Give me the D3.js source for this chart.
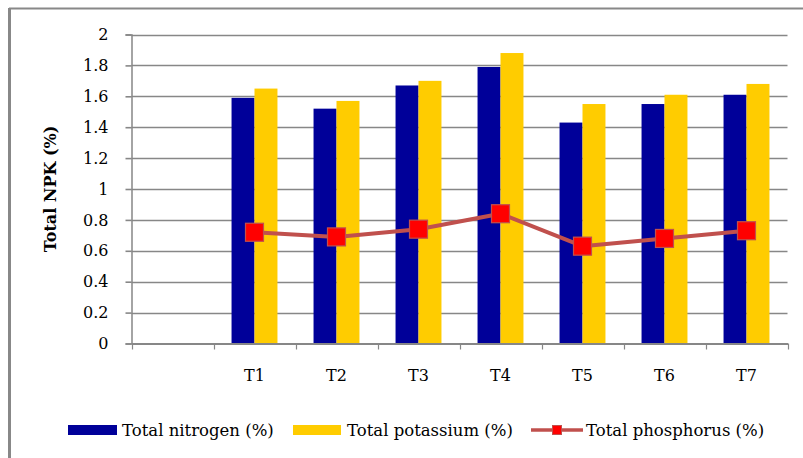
<!DOCTYPE html>
<html>
<head>
<meta charset="utf-8">
<script src="https://cdn.jsdelivr.net/npm/d3@7"></script>
<style>
  html, body { margin: 0; padding: 0; background: #fff; }
  svg { display: block; }
  svg text { font-family: "DejaVu Serif", "Liberation Serif", serif !important; fill: #000; }
</style>
</head>
<body>
<svg id="chart" width="803" height="458"></svg>
<script>
// Categories along the x axis (the first slot is left empty)
const categories = ["", "T1", "T2", "T3", "T4", "T5", "T6", "T7"];
// Treatment values
const nitrogen   = [null, 1.59, 1.52, 1.67, 1.79, 1.43, 1.55, 1.61];
const potassium  = [null, 1.65, 1.57, 1.70, 1.88, 1.55, 1.61, 1.68];
const phosphorus = [null, 0.72, 0.69, 0.74, 0.84, 0.63, 0.68, 0.73];
// Y axis ticks
const yTicks = [0, 0.2, 0.4, 0.6, 0.8, 1, 1.2, 1.4, 1.6, 1.8, 2];

const seriesNames = ["Total nitrogen (%)", "Total potassium (%)", "Total phosphorus (%)"];
const colors = { nitrogen: "#000099", potassium: "#FFCC00", line: "#C0504D", marker: "#FF0000" };

const svg = d3.select("#chart");
const margin = { left: 131.5, right: 803 - 787.5, top: 34.5, bottom: 458 - 343.5 };
const W = 803, H = 458;

// Outer chart frame (top and left edges visible)
svg.append("line").attr("x1", 9).attr("x2", W).attr("y1", 8.5).attr("y2", 8.5)
  .attr("stroke", "#888").attr("stroke-width", 2);
svg.append("line").attr("x1", 9.5).attr("x2", 9.5).attr("y1", 8).attr("y2", H)
  .attr("stroke", "#888").attr("stroke-width", 3);

const x = d3.scaleBand().domain(categories).range([margin.left, W - margin.right]).padding(0);
const bw = x.bandwidth();
const x1 = d3.scaleBand().domain(["nitrogen", "potassium"]).range([bw * 0.22, bw * 0.78]).padding(0);
const y = d3.scaleLinear().domain([0, 2]).range([H - margin.bottom, margin.top]);

// Horizontal gridlines
svg.append("g").selectAll("line").data(yTicks.filter(d => d > 0)).join("line")
  .attr("x1", margin.left).attr("x2", W - margin.right)
  .attr("y1", d => Math.round(y(d)) + 0.5).attr("y2", d => Math.round(y(d)) + 0.5)
  .attr("stroke", "#878787").attr("stroke-width", 1.6);

// Y axis
const yAxis = svg.append("g").attr("transform", `translate(${margin.left},0)`)
  .call(d3.axisLeft(y).tickValues(yTicks).tickSize(6).tickPadding(17)
    .tickFormat(d => d3.format("")(+d.toFixed(1))));
yAxis.select(".domain").attr("stroke", "#878787").attr("stroke-width", 1.5);
yAxis.selectAll(".tick line").attr("stroke", "#878787").attr("stroke-width", 1.6);
yAxis.selectAll(".tick text").attr("font-size", 16).attr("fill", "#000");

// Y axis title
svg.append("text")
  .attr("transform", `translate(56,189) rotate(-90)`)
  .attr("text-anchor", "middle")
  .attr("font-size", 16).attr("font-weight", "bold")
  .text("Total NPK (%)");

// Bars
const groups = svg.append("g").selectAll("g").data(categories).join("g")
  .attr("transform", d => `translate(${x(d)},0)`);
[["nitrogen", nitrogen], ["potassium", potassium]].forEach(([key, vals]) => {
  groups.filter((d, i) => vals[i] != null)
    .append("rect")
    .attr("x", x1(key)).attr("width", x1.bandwidth())
    .attr("y", d => y(vals[categories.indexOf(d)]))
    .attr("height", d => y(0) - y(vals[categories.indexOf(d)]))
    .attr("fill", colors[key]);
});

// X axis
const xAxis = svg.append("g").attr("transform", `translate(0,${y(0)})`)
  .call(d3.axisBottom(x).tickSize(0).tickPadding(26));
xAxis.select(".domain").attr("stroke", "#878787").attr("stroke-width", 2.2);
xAxis.selectAll(".tick text").attr("font-size", 16).attr("fill", "#000");
// Boundary ticks between categories
svg.append("g").selectAll("line")
  .data(categories.map(c => x(c)).concat([x(categories[categories.length - 1]) + bw]))
  .join("line")
  .attr("x1", d => Math.round(d) + 0.5).attr("x2", d => Math.round(d) + 0.5)
  .attr("y1", y(0)).attr("y2", y(0) + 6)
  .attr("stroke", "#878787").attr("stroke-width", 1.2);

// Phosphorus line with square markers
const pts = categories.map((c, i) => ({ c, v: phosphorus[i] })).filter(d => d.v != null);
const line = d3.line().x(d => x(d.c) + bw / 2).y(d => y(d.v));
svg.append("path").datum(pts).attr("d", line)
  .attr("fill", "none").attr("stroke", colors.line).attr("stroke-width", 4)
  .attr("stroke-linejoin", "round");
const ms = 18;
svg.append("g").selectAll("rect").data(pts).join("rect")
  .attr("x", d => x(d.c) + bw / 2 - ms / 2).attr("y", d => y(d.v) - ms / 2)
  .attr("width", ms).attr("height", ms)
  .attr("fill", colors.marker).attr("stroke", colors.line).attr("stroke-width", 1.2);

// Legend
const legend = svg.append("g");
const ly = 430;
const lfs = 16.5;
legend.append("rect").attr("x", 68).attr("y", ly - 5).attr("width", 49).attr("height", 10).attr("fill", colors.nitrogen);
legend.append("text").attr("x", 122).attr("y", ly + 6).attr("font-size", lfs).text(seriesNames[0]);
legend.append("rect").attr("x", 293).attr("y", ly - 5).attr("width", 48).attr("height", 10).attr("fill", colors.potassium);
legend.append("text").attr("x", 347).attr("y", ly + 6).attr("font-size", lfs).text(seriesNames[1]);
legend.append("line").attr("x1", 531).attr("x2", 583).attr("y1", ly).attr("y2", ly)
  .attr("stroke", colors.line).attr("stroke-width", 3.5);
legend.append("rect").attr("x", 552.5).attr("y", ly - 4.5).attr("width", 9).attr("height", 9)
  .attr("fill", colors.marker).attr("stroke", colors.line).attr("stroke-width", 1);
legend.append("text").attr("x", 586).attr("y", ly + 6).attr("font-size", lfs).text(seriesNames[2]);
</script>
</body>
</html>
